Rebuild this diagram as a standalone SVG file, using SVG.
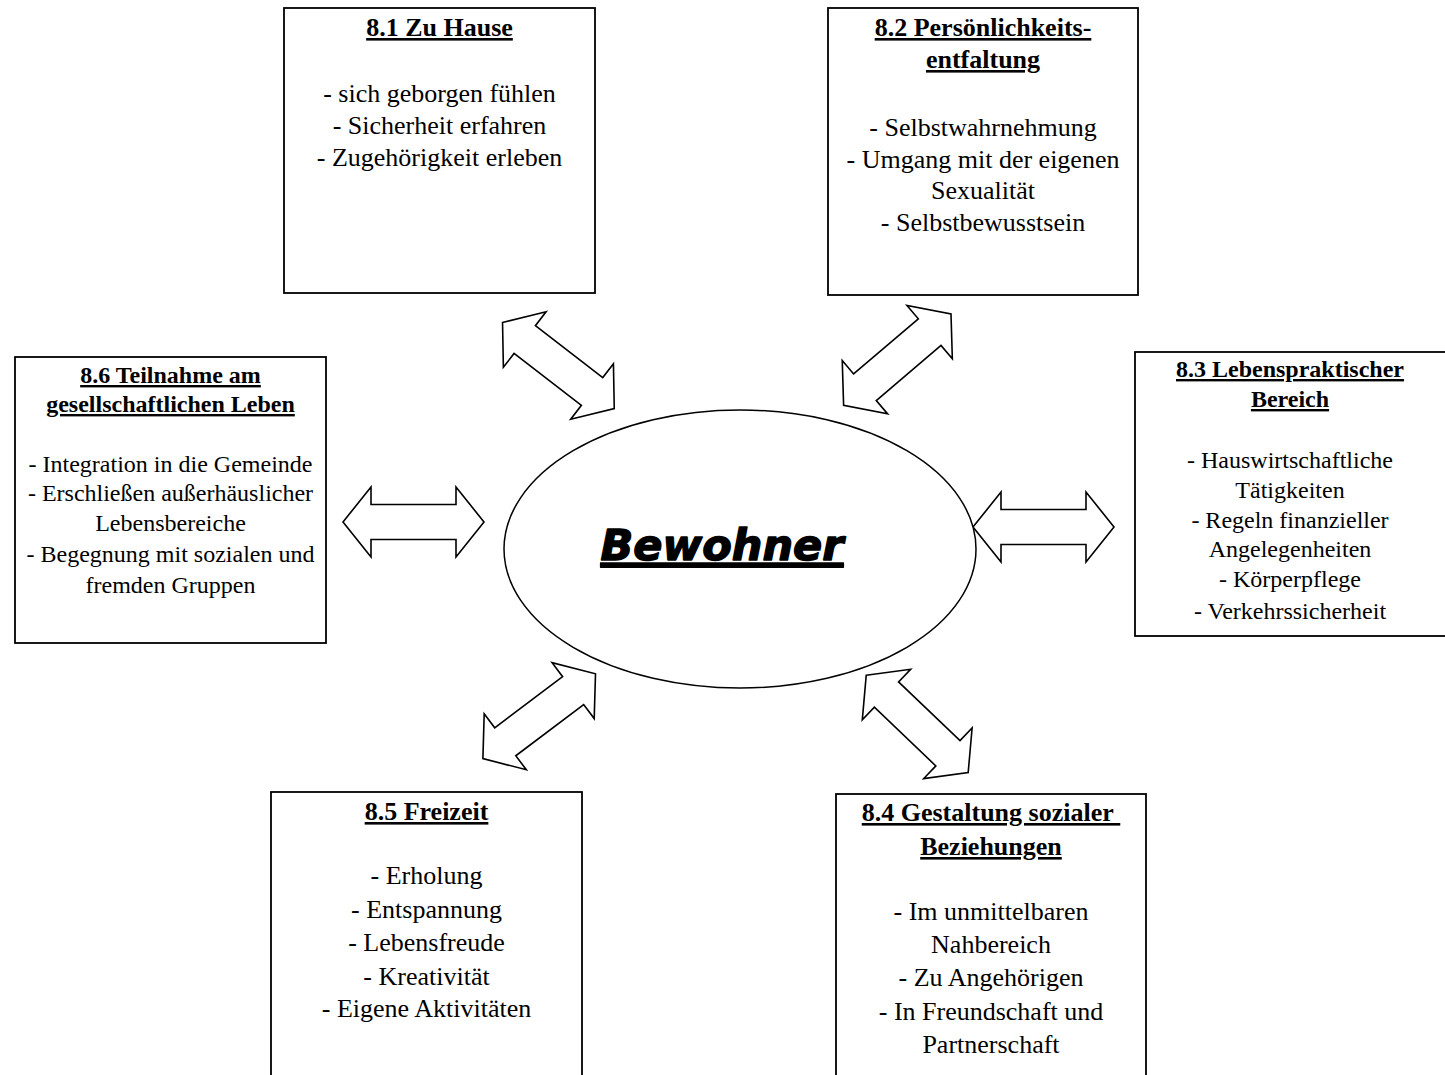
<svg xmlns="http://www.w3.org/2000/svg" xmlns:xlink="http://www.w3.org/1999/xlink" width="1445" height="1075" viewBox="0 0 1445 1075">
<style>
.box{fill:#fff;stroke:#000;stroke-width:1.8}
.arr{fill:#fff;stroke:#000;stroke-width:1.6;stroke-linejoin:miter}
.t{font-family:"Liberation Serif","Times New Roman",serif;font-size:26px;fill:#000;text-anchor:middle}
.s{font-size:24px}
.h{font-weight:bold;text-decoration:underline}
.c{font-family:"DejaVu Sans",sans-serif;font-weight:bold;font-style:italic;font-size:43px;text-anchor:middle;text-decoration:underline;fill:#000;stroke:#000;stroke-width:1.4;stroke-linejoin:round}
</style>
<defs>
<path id="dbl" d="M-70.5,0 L-42.5,-35 L-42.5,-17.5 L42.5,-17.5 L42.5,-35 L70.5,0 L42.5,35 L42.5,17.5 L-42.5,17.5 L-42.5,35 Z"/>
</defs>
<rect width="1445" height="1075" fill="#fff"/>
<g id="connectors">
<use xlink:href="#dbl" class="arr" transform="translate(558.4,365.5) rotate(37.6)"/>
<use xlink:href="#dbl" class="arr" transform="translate(897.3,359.7) rotate(-40.4)"/>
<use xlink:href="#dbl" class="arr" transform="translate(413.5,522)"/>
<use xlink:href="#dbl" class="arr" transform="translate(1043.5,527)"/>
<use xlink:href="#dbl" class="arr" transform="translate(539.2,716.2) rotate(-37)"/>
<use xlink:href="#dbl" class="arr" transform="translate(917.2,723.9) rotate(43.7)"/>
</g>
<g id="center">
<ellipse cx="740" cy="549" rx="236" ry="139" class="box" style="stroke-width:1.5"/>
<text class="c" x="722" y="560">Bewohner</text>
</g>
<g id="n81">
<rect x="284" y="8" width="311" height="285" class="box"/>
<text class="t h" x="439.5" y="36">8.1 Zu Hause</text>
<text class="t" x="439.5" y="102">- sich geborgen fühlen</text>
<text class="t" x="439.5" y="134">- Sicherheit erfahren</text>
<text class="t" x="439.5" y="166">- Zugehörigkeit erleben</text>
</g>
<g id="n82">
<rect x="828" y="8" width="310" height="287" class="box"/>
<text class="t h" x="983" y="36">8.2 Persönlichkeits-</text>
<text class="t h" x="983" y="68">entfaltung</text>
<text class="t" x="983" y="136">- Selbstwahrnehmung</text>
<text class="t" x="983" y="168">- Umgang mit der eigenen</text>
<text class="t" x="983" y="199">Sexualität</text>
<text class="t" x="983" y="231">- Selbstbewusstsein</text>
</g>
<g id="n83">
<rect x="1135" y="352" width="320" height="284" class="box"/>
<text class="t s h" x="1290" y="377">8.3 Lebenspraktischer</text>
<text class="t s h" x="1290" y="407">Bereich</text>
<text class="t s" x="1290" y="468">- Hauswirtschaftliche</text>
<text class="t s" x="1290" y="498">Tätigkeiten</text>
<text class="t s" x="1290" y="528">- Regeln finanzieller</text>
<text class="t s" x="1290" y="557">Angelegenheiten</text>
<text class="t s" x="1290" y="587">- Körperpflege</text>
<text class="t s" x="1290" y="619">- Verkehrssicherheit</text>
</g>
<g id="n84">
<rect x="836" y="794" width="310" height="320" class="box"/>
<text class="t h" x="991" y="821">8.4 Gestaltung sozialer&#160;</text>
<text class="t h" x="991" y="855">Beziehungen</text>
<text class="t" x="991" y="920">- Im unmittelbaren</text>
<text class="t" x="991" y="953">Nahbereich</text>
<text class="t" x="991" y="986">- Zu Angehörigen</text>
<text class="t" x="991" y="1020">- In Freundschaft und</text>
<text class="t" x="991" y="1053">Partnerschaft</text>
</g>
<g id="n85">
<rect x="271" y="792" width="311" height="320" class="box"/>
<text class="t h" x="426.5" y="820">8.5 Freizeit</text>
<text class="t" x="426.5" y="884">- Erholung</text>
<text class="t" x="426.5" y="918">- Entspannung</text>
<text class="t" x="426.5" y="951">- Lebensfreude</text>
<text class="t" x="426.5" y="985">- Kreativität</text>
<text class="t" x="426.5" y="1017">- Eigene Aktivitäten</text>
</g>
<g id="n86">
<rect x="15" y="357" width="311" height="286" class="box"/>
<text class="t s h" x="170.5" y="383">8.6 Teilnahme am</text>
<text class="t s h" x="170.5" y="412">gesellschaftlichen Leben</text>
<text class="t s" x="170.5" y="472">- Integration in die Gemeinde</text>
<text class="t s" x="170.5" y="501">- Erschließen außerhäuslicher</text>
<text class="t s" x="170.5" y="531">Lebensbereiche</text>
<text class="t s" x="170.5" y="562">- Begegnung mit sozialen und</text>
<text class="t s" x="170.5" y="593">fremden Gruppen</text>
</g>
</svg>
